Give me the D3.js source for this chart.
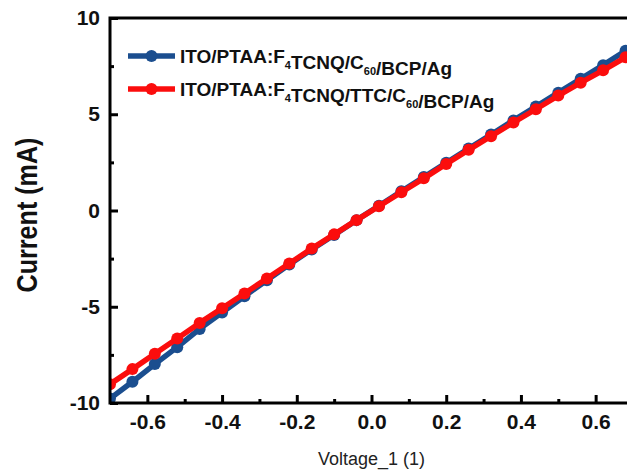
<!DOCTYPE html>
<html>
<head>
<meta charset="utf-8">
<script src="https://cdn.jsdelivr.net/npm/d3@7"></script>
<style>
  html, body { margin: 0; padding: 0; background: #fff; }
  svg { display: block; }
  text { font-family: "Liberation Sans", Arial, sans-serif; }
</style>
</head>
<body>
<svg id="chart"></svg>
<script>
// voltage steps (V)
const voltage = [-0.70, -0.64, -0.58, -0.52, -0.46, -0.40, -0.34, -0.28, -0.22, -0.16, -0.10, -0.04,
                 0.02, 0.08, 0.14, 0.20, 0.26, 0.32, 0.38, 0.44, 0.50, 0.56, 0.62, 0.68];
// current (mA) for each device
const currentRef = [-9.77, -8.90, -7.98, -7.10, -6.15, -5.30, -4.45, -3.62, -2.80, -2.02, -1.27, -0.50,
                    0.25, 1.00, 1.74, 2.48, 3.22, 3.95, 4.68, 5.40, 6.12, 6.84, 7.55, 8.30];
const currentTTC = [-9.02, -8.24, -7.44, -6.65, -5.84, -5.08, -4.31, -3.53, -2.75, -1.98, -1.24, -0.50,
                    0.22, 0.95, 1.67, 2.42, 3.15, 3.86, 4.57, 5.26, 5.97, 6.64, 7.28, 7.96];
const seriesNames = [
  ["ITO/PTAA:F", ["4"], "TCNQ/C", ["60"], "/BCP/Ag"],
  ["ITO/PTAA:F", ["4"], "TCNQ/TTC/C", ["60"], "/BCP/Ag"]
];
const seriesColors = ["#1b4e8f", "#fb0d0d"];
const xTicks = [-0.6, -0.4, -0.2, 0.0, 0.2, 0.4, 0.6];
const xMinor = [-0.5, -0.3, -0.1, 0.1, 0.3, 0.5];
const yTicks = [-10, -5, 0, 5, 10];
const yMinor = [-7.5, -2.5, 2.5, 7.5];

(function() {
  const W = 627, H = 473;
  const left = 110, right = 633, top = 18, bottom = 403;

  const svg = d3.select("#chart").attr("width", W).attr("height", H);

  const x = d3.scaleLinear().domain([-0.7, 0.7]).range([left, right]);
  const y = d3.scaleLinear().domain([-10, 10]).range([bottom, top]);

  svg.append("defs").append("clipPath").attr("id", "plotclip")
    .append("rect").attr("x", left).attr("y", top)
    .attr("width", right - left).attr("height", bottom - top);

  const series = [currentRef, currentTTC].map((vals, i) => ({
    color: seriesColors[i],
    pts: voltage.map((v, j) => [v, vals[j]])
  }));

  const line = d3.line().x(d => x(d[0])).y(d => y(d[1]));
  const plot = svg.append("g").attr("clip-path", "url(#plotclip)");

  series.forEach(s => {
    const g = plot.append("g");
    g.append("path").datum(s.pts)
      .attr("d", line).attr("fill", "none")
      .attr("stroke", s.color).attr("stroke-width", 5.5)
      .attr("stroke-linejoin", "round");
    g.selectAll("circle").data(s.pts).enter().append("circle")
      .attr("cx", d => x(d[0])).attr("cy", d => y(d[1]))
      .attr("r", 6).attr("fill", s.color);
  });

  // axes (ticks point inward)
  svg.append("g").attr("transform", `translate(0,${bottom})`)
    .call(d3.axisBottom(x).tickValues(xTicks).tickSize(-8).tickPadding(11)
      .tickFormat(d3.format(".1f")));
  svg.append("g").attr("transform", `translate(0,${bottom})`)
    .call(d3.axisBottom(x).tickValues(xMinor).tickSize(-4).tickFormat(""));

  svg.append("g").attr("transform", `translate(${left},0)`)
    .call(d3.axisLeft(y).tickValues(yTicks).tickSize(-8).tickPadding(10)
      .tickFormat(d3.format("d")));
  svg.append("g").attr("transform", `translate(${left},0)`)
    .call(d3.axisLeft(y).tickValues(yMinor).tickSize(-4).tickFormat(""));

  svg.selectAll(".domain").remove();
  svg.selectAll(".tick line").attr("stroke", "#000").attr("stroke-width", 3);
  svg.selectAll(".tick text")
    .attr("fill", "#111").attr("font-size", 21).attr("font-weight", "bold")
    .attr("font-family", "Liberation Sans, Arial, sans-serif")
    .text(function() { return d3.select(this).text().replace("\u2212", "-"); });

  // frame
  svg.append("rect")
    .attr("x", left).attr("y", top)
    .attr("width", right - left).attr("height", bottom - top)
    .attr("fill", "none").attr("stroke", "#000").attr("stroke-width", 3);

  // axis titles
  svg.append("text")
    .attr("x", (left + right) / 2).attr("y", 465)
    .attr("text-anchor", "middle").attr("font-size", 18).attr("fill", "#222")
    .text("Voltage_1 (1)");

  svg.append("text")
    .attr("transform", "translate(37,215) rotate(-90)")
    .attr("text-anchor", "middle").attr("font-size", 29).attr("font-weight", "bold")
    .attr("textLength", 155).attr("lengthAdjust", "spacingAndGlyphs")
    .attr("fill", "#111")
    .text("Current (mA)");

  // legend
  const legend = svg.append("g");
  seriesNames.forEach((parts, i) => {
    const ly = 56 + i * 33;
    legend.append("line")
      .attr("x1", 128).attr("x2", 175).attr("y1", ly).attr("y2", ly)
      .attr("stroke", seriesColors[i]).attr("stroke-width", 5.5);
    legend.append("circle")
      .attr("cx", 151.5).attr("cy", ly).attr("r", 6).attr("fill", seriesColors[i]);
    const t = legend.append("text")
      .attr("x", 180).attr("y", ly + 7)
      .attr("font-size", 19).attr("font-weight", "bold").attr("fill", "#111");
    parts.forEach(p => {
      if (Array.isArray(p)) {
        t.append("tspan").attr("font-size", 11).attr("dy", 6).text(p[0]);
        t.append("tspan").attr("dy", -6).text("");
      } else {
        t.append("tspan").text(p);
      }
    });
  });
})();
</script>
</body>
</html>
